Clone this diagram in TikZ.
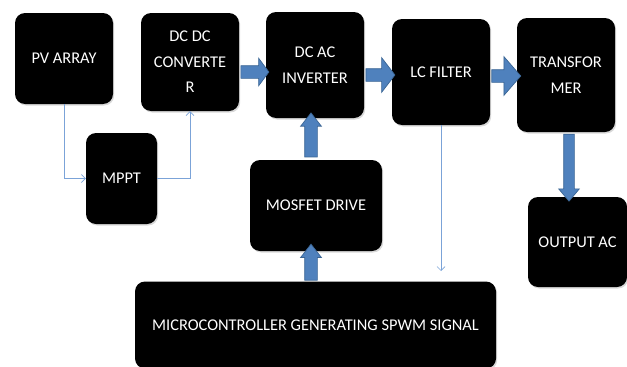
\documentclass[tikz,border=0pt]{standalone}
\usepackage{fontspec}
\setmainfont{Carlito}
\usetikzlibrary{arrows.meta,shapes.arrows,shadows}

\definecolor{arrowblue}{HTML}{4F81BD}
\definecolor{arrowedge}{HTML}{3A6594}
\definecolor{wireblue}{HTML}{7BA3D8}

\tikzset{
  block/.style={fill=black, rounded corners=10pt, text=white, align=center,
    font=\fontsize{16.4}{25.5}\selectfont,
    drop shadow={shadow xshift=1.2pt, shadow yshift=-1.5pt, opacity=0.3}},
  fatarrow/.style={single arrow, fill=arrowblue, draw=arrowedge, line width=0.7pt,
    inner xsep=0pt, inner ysep=6pt, minimum width=0pt},
  wire/.style={draw=wireblue, line width=0.7pt, -{Straight Barb[length=4pt,width=8pt]}},
}

\begin{document}
\begin{tikzpicture}[x=1pt,y=-1pt]
    \useasboundingbox (0,0) rectangle (627,367);
    % top row
    \node[block, minimum width=98pt, minimum height=91pt] (pv) at (64,58.5) {PV ARRAY};
    \node[block, minimum width=98pt, minimum height=98pt] (dcdc) at (190,62) {DC DC\\CONVERTE\\R};
    \node[block, minimum width=98pt, minimum height=106pt] (dcac) at (315,65) {DC AC\\INVERTER};
    \node[block, minimum width=98pt, minimum height=106pt] (lc) at (441,72) {LC FILTER};
    \node[block, minimum width=98pt, minimum height=114pt] (trans) at (566,75) {TRANSFOR\\MER};
    % lower boxes
    \node[block, minimum width=71pt, minimum height=91pt] (mppt) at (121.5,178.5) {MPPT};
    \node[block, minimum width=132pt, minimum height=91pt] (mosfet) at (316,205.5) {MOSFET DRIVE};
    \node[block, minimum width=99pt, minimum height=90pt] (out) at (577.5,242) {OUTPUT AC};
    \node[block, minimum width=361pt, minimum height=87pt] (micro) at (315.5,325) {MICROCONTROLLER GENERATING SPWM SIGNAL};
    \coordinate (lcend) at (441,271);
    % thin connectors
    \draw[wire] (pv.south) |- (mppt.west);
    \draw[wire] (mppt.east) -| (dcdc.south);
    \draw[wire] (lc.south) -- (lcend);
    % block arrows
    \path (dcdc.east |- 0,72) -- node[fatarrow, minimum height=28pt, single arrow head extend=7.5pt, single arrow tip angle=107] {} (dcac.west |- 0,72);
    \path (dcac.east |- 0,75) -- node[fatarrow, minimum height=29pt, single arrow head extend=11pt, single arrow tip angle=105] {} (lc.west |- 0,75);
    \path (lc.east |- 0,76) -- node[fatarrow, minimum height=29pt, single arrow head extend=13pt, single arrow tip angle=98] {} (trans.west |- 0,76);
    \path (mosfet.north -| 311,0) -- node[fatarrow, rotate=90, minimum height=44pt, single arrow head extend=4pt, single arrow tip angle=76] {} (dcac.south -| 311,0);
    \path (micro.north -| 311,0) -- node[fatarrow, rotate=90, minimum height=36pt, single arrow head extend=4pt, single arrow tip angle=76] {} (mosfet.south -| 311,0);
    \path (trans.south -| 569,0) -- node[fatarrow, rotate=-90, minimum height=67pt, inner ysep=5pt, single arrow head extend=5pt, single arrow tip angle=80] {} (out.north -| 569,0);
\end{tikzpicture}
\end{document}
